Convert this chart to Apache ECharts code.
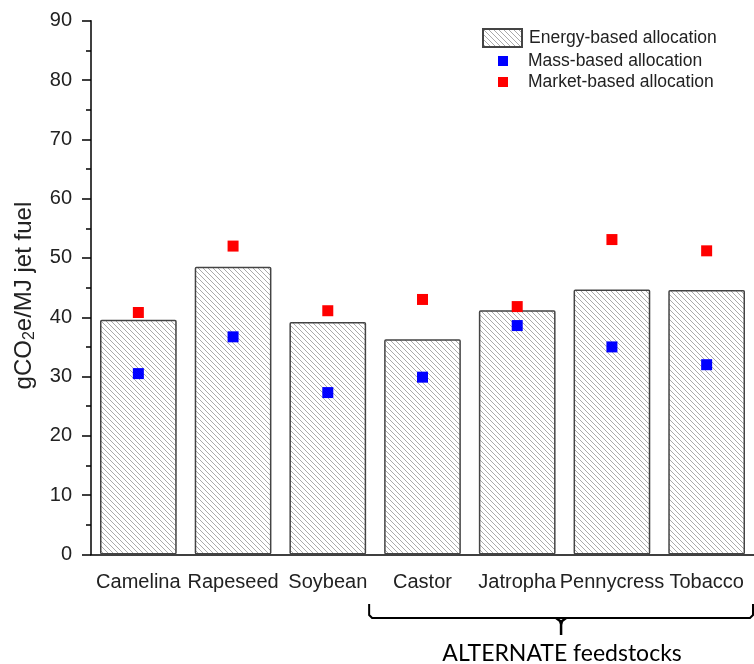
<!DOCTYPE html>
<html>
<head>
<meta charset="utf-8">
<script src="https://cdn.jsdelivr.net/npm/echarts@6/dist/echarts.min.js"></script>
<style>
html,body{margin:0;padding:0;background:#fff;}
#chart{width:754px;height:664px;}
</style>
</head>
<body>
<div id="chart"></div>
<script>
// ---- data ----
var categories = ['Camelina', 'Rapeseed', 'Soybean', 'Castor', 'Jatropha', 'Pennycress', 'Tobacco'];
var energyBased = [39.6, 48.5, 39.2, 36.3, 41.2, 44.7, 44.6];
var massBased = [30.5, 36.7, 27.3, 29.9, 38.6, 35.0, 32.0];
var marketBased = [40.8, 52.0, 41.1, 43.0, 41.8, 53.1, 51.2];
var seriesNames = ['Energy-based allocation', 'Mass-based allocation', 'Market-based allocation'];
var yTicks = [0, 10, 20, 30, 40, 50, 60, 70, 80, 90];
var bracketLabel = 'ALTERNATE feedstocks';
var bracketFrom = 'Castor', bracketTo = 'Tobacco';

// hatch pattern
function makeHatch() {
  var n = 5;
  var c = document.createElement('canvas');
  c.width = n; c.height = n;
  var ctx = c.getContext('2d');
  ctx.fillStyle = '#fff';
  ctx.fillRect(0, 0, n, n);
  ctx.strokeStyle = '#a0a0a0';
  ctx.lineWidth = 0.9;
  for (var k = -1; k <= 1; k++) {
    ctx.beginPath();
    ctx.moveTo(k * n, 0);
    ctx.lineTo(k * n + n, n);
    ctx.stroke();
  }
  return c;
}
var hatch = { image: makeHatch(), repeat: 'repeat' };

var chart = echarts.init(document.getElementById('chart'), null, { renderer: 'canvas' });
var FONT = '"Liberation Sans", Arial, sans-serif';

var option = {
  animation: false,
  backgroundColor: '#fff',
  grid: { left: 91, top: 20.7, width: 664, bottom: 109.5, containLabel: false },
  legend: [{
    data: [seriesNames[0]],
    left: 477, top: 23,
    itemWidth: 39, itemHeight: 18,
    icon: 'rect',
    textStyle: { fontFamily: FONT, fontSize: 17.5, color: '#222', padding: [0, 0, 0, 2] },
    selectedMode: false
  }, {
    data: [seriesNames[1], seriesNames[2]],
    orient: 'vertical',
    left: 493, top: 46,
    itemWidth: 10, itemHeight: 10,
    itemGap: 1,
    icon: 'rect',
    textStyle: { fontFamily: FONT, fontSize: 17.5, color: '#222', lineHeight: 20, padding: [0, 0, 0, 15] },
    selectedMode: false
  }],
  xAxis: {
    type: 'category',
    data: categories,
    axisLine: { lineStyle: { color: '#000', width: 1.5 } },
    axisTick: { alignWithLabel: true, length: 9, lineStyle: { color: '#000', width: 1.5 } },
    axisLabel: { interval: 0, margin: 18, fontFamily: FONT, fontSize: 20, color: '#222' }
  },
  yAxis: {
    type: 'value',
    min: yTicks[0], max: yTicks[yTicks.length - 1], interval: 10,
    name: 'gCO{sub|2}e/MJ jet fuel',
    nameLocation: 'middle',
    nameGap: 53,
    nameTextStyle: {
      fontFamily: FONT, fontSize: 24, color: '#222',
      padding: [0, 16, 0, 0],
      rich: { sub: { fontFamily: FONT, fontSize: 16, color: '#222', padding: [12, 0, 0, 0] } }
    },
    axisLine: { show: true, lineStyle: { color: '#000', width: 1.5 } },
    axisTick: { show: true, length: 9, lineStyle: { color: '#000', width: 1.5 } },
    minorTick: { show: true, splitNumber: 2, length: 5, lineStyle: { color: '#000', width: 1.5 } },
    splitLine: { show: false },
    axisLabel: { margin: 19, fontFamily: FONT, fontSize: 20, color: '#222' }
  },
  series: [{
    name: seriesNames[0],
    type: 'bar',
    data: energyBased,
    barWidth: '81%',
    itemStyle: { color: hatch, borderColor: '#444', borderWidth: 1.5, borderRadius: 1 },
    z: 2
  }, {
    name: seriesNames[1],
    type: 'scatter',
    data: massBased,
    symbol: 'rect',
    symbolSize: 11,
    itemStyle: { color: '#0000ff', opacity: 1 },
    z: 5
  }, {
    name: seriesNames[2],
    type: 'scatter',
    data: marketBased,
    symbol: 'rect',
    symbolSize: 11,
    itemStyle: { color: '#ff0000', opacity: 1 },
    z: 5
  }]
};
chart.setOption(option);

// bracket annotation below the axis
var i0 = categories.indexOf(bracketFrom), i1 = categories.indexOf(bracketTo);
var pA = chart.convertToPixel({ xAxisIndex: 0 }, bracketFrom);
var pB = chart.convertToPixel({ xAxisIndex: 0 }, bracketTo);
var band = (pB - pA) / (i1 - i0);
var bx0 = pA - band / 2 - 6, bx1 = pB + band / 2 - 1;
var by = 618, topY = 604;
var mid = (bx0 + bx1) / 2;
chart.setOption({
  graphic: [{
    type: 'polyline',
    shape: { points: [[bx0, topY], [bx0, by - 3], [bx0 + 3, by], [bx1 - 3, by], [bx1, by - 3], [bx1, topY]] },
    style: { stroke: '#000', lineWidth: 2, fill: null }
  }, {
    type: 'polyline',
    shape: { points: [[mid - 5, by], [mid - 1, by + 3], [mid, by + 6], [mid, by + 17]] },
    style: { stroke: '#000', lineWidth: 2.5, fill: null }
  }, {
    type: 'polyline',
    shape: { points: [[mid + 5, by], [mid + 1, by + 3], [mid, by + 6]] },
    style: { stroke: '#000', lineWidth: 2.5, fill: null }
  }, {
    type: 'text',
    x: mid + 1, y: 654,
    style: { text: bracketLabel, fontFamily: 'Lato, "Open Sans", sans-serif', fontSize: 23, fill: '#000', align: 'center', verticalAlign: 'middle' }
  }]
});
</script>
</body>
</html>
